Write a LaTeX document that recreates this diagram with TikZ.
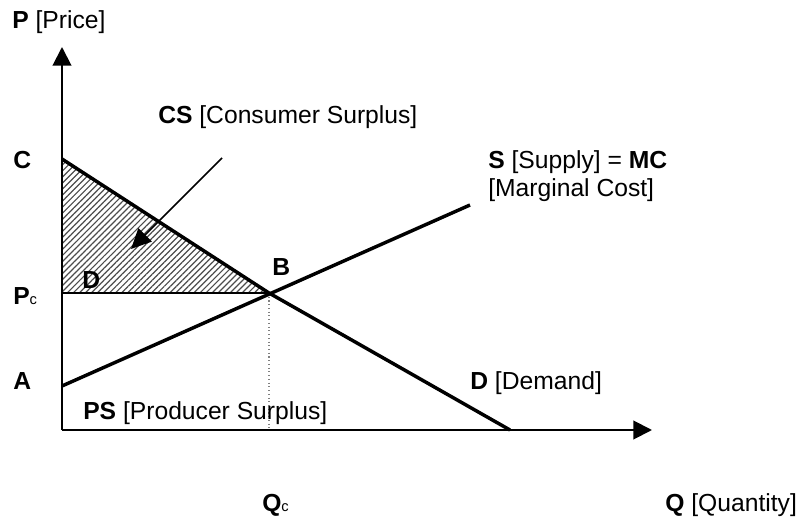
\documentclass[tikz,border=0pt]{standalone}
\usepackage{fontspec}
\setmainfont{Liberation Sans}
\usetikzlibrary{arrows.meta,patterns.meta}
\begin{document}
\begin{tikzpicture}[x=0.75pt,y=-0.75pt,
  axisline/.style={line width=1.5pt,-{Triangle[length=14pt,width=14pt]}},
  curveline/.style={line width=2.6pt},
  thinline/.style={line width=1.2pt},
  lbl/.style={inner sep=0pt,anchor=base west,font=\fontsize{18.5}{22}\selectfont},
  hatch/.style={pattern={Lines[angle=45,distance=3.2pt,line width=0.9pt]},pattern color=black!70}
]
\newcommand{\subc}{{\fontsize{11}{13}\selectfont c}}
\useasboundingbox (0,0) rectangle (801,517);

% key points of the market diagram
\coordinate (O) at (62,430);
\coordinate (Ytip) at (62,47);
\coordinate (Xtip) at (652,430);
\coordinate (C) at (62,159);
\coordinate (B) at (269,293);
\coordinate (E) at (510,430);
\coordinate (A) at (62,386);
\coordinate (Send) at (470,205);
\coordinate (Pc) at (62,293);
\coordinate (Qfoot) at (269,430);
\coordinate (csfrom) at (222,158);
\coordinate (csto) at (131,249);

% consumer surplus area
\fill[hatch] (C) -- (B) -- (Pc) -- cycle;
\draw[thinline] (Pc) -- (B);
\draw[dotted,gray,line width=0.8pt] (B) -- (Qfoot);

% demand and supply curves
\draw[curveline] (C) -- (B) -- (E);
\draw[curveline] (A) -- (Send);

% axes
\draw[axisline] (O) -- (Ytip);
\draw[axisline] (O) -- (Xtip);

% pointer to the consumer surplus
\draw[thinline,-{Triangle[length=15pt,width=14pt]}] (csfrom) -- (csto);

% labels
\node[lbl] (lP) at (12,29) {\textbf{P} [Price]};
\node[lbl] (lCS) at (158,124) {\textbf{CS} [Consumer Surplus]};
\node[lbl] (lC) at (13,169) {\textbf{C}};
\node[lbl] (lS) at (488,169) {\textbf{S} [Supply] = \textbf{MC}};
\node[lbl] (lMC) at (488,197) {[Marginal Cost]};
\node[lbl] (lD) at (82,288) {\textbf{D}};
\node[lbl] (lB) at (272,275) {\textbf{B}};
\node[lbl] (lPc) at (13,305) {\textbf{P}\subc};
\node[lbl] (lA) at (13,389) {\textbf{A}};
\node[lbl] (lPS) at (83,419) {\textbf{PS} [Producer Surplus]};
\node[lbl] (lDem) at (470,389) {\textbf{D} [Demand]};
\node[lbl] (lQc) at (262,511) {\textbf{Q}\subc};
\node[lbl] (lQ) at (665,511) {\textbf{Q} [Quantity]};
\end{tikzpicture}
\end{document}
